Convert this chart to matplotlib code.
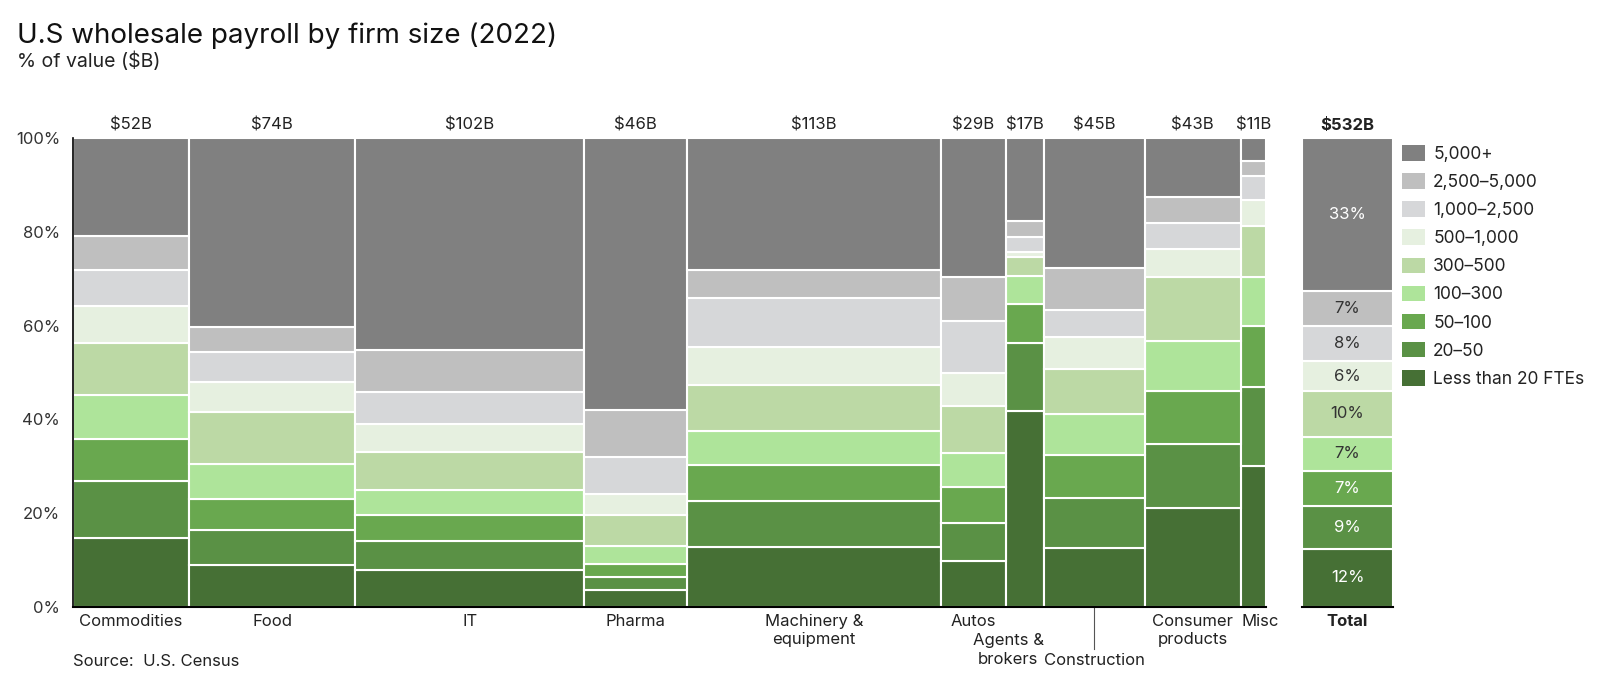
import numpy as np
import matplotlib
matplotlib.use("Agg")
import matplotlib.pyplot as plt
from matplotlib.patches import Patch

plt.rcParams['font.family'] = ['Inter', 'DejaVu Sans']

# categories and their total payroll ($B) -> column widths
categories = ["Commodities", "Food", "IT", "Pharma", "Machinery &\nequipment",
              "Autos", "Agents &\nbrokers", "Construction", "Consumer\nproducts", "Misc"]
payroll = [52, 74, 102, 46, 113, 29, 17, 45, 43, 11]

# firm size bands, bottom to top
bands = ["Less than 20 FTEs", "20-50", "50-100", "100-300", "300-500",
         "500-1,000", "1,000-2,500", "2,500-5,000", "5,000+"]
colors = ["#467035", "#5a9145", "#69a84f", "#aee49a", "#bcd9a5",
          "#e6f0e0", "#d6d7d9", "#bfbfbf", "#808080"]

# share of payroll (%) per band, one value per category
lt20      = [14.7, 8.8, 7.9, 3.6, 12.7, 9.8, 41.7, 12.5, 21.1, 30.1]
s20_50    = [12.2, 7.5, 6.2, 2.8, 9.8, 8.0, 14.5, 10.7, 13.7, 16.9]
s50_100   = [9.0, 6.7, 5.4, 2.7, 7.8, 7.7, 8.4, 9.2, 11.2, 12.9]
s100_300  = [9.2, 7.5, 5.4, 3.8, 7.3, 7.4, 6.0, 8.8, 10.7, 10.5]
s300_500  = [11.2, 11.0, 8.2, 6.6, 9.8, 9.9, 4.1, 9.6, 13.7, 10.9]
s500_1k   = [7.8, 6.5, 5.8, 4.6, 8.1, 7.1, 1.1, 6.8, 6.0, 5.5]
s1k_2500  = [7.7, 6.3, 7.0, 7.8, 10.3, 11.2, 3.2, 5.8, 5.6, 5.2]
s2500_5k  = [7.4, 5.4, 9.0, 10.2, 6.0, 9.3, 3.4, 8.9, 5.4, 3.2]
s5k_plus  = [20.8, 40.3, 45.1, 57.9, 28.2, 29.6, 17.6, 27.7, 12.6, 4.8]
shares = [lt20, s20_50, s50_100, s100_300, s300_500, s500_1k, s1k_2500, s2500_5k, s5k_plus]

total_label = "$532B"
total_shares = [12.4, 9.2, 7.4, 7.3, 9.8, 6.3, 7.6, 7.3, 32.7]
total_text_white = [True, True, True, False, False, False, False, False, True]

W, H = 1600, 686
fig = plt.figure(figsize=(16, 6.86), dpi=100)

x0, x1 = 72.7, 1265.7
y0, y1 = 606.7, 138.3
ax = fig.add_axes([x0 / W, 1 - y0 / H, (x1 - x0) / W, (y0 - y1) / H])

lefts = np.concatenate([[0], np.cumsum(payroll)[:-1]])
bottom = np.zeros(len(payroll))
for band, col, vals in zip(bands, colors, shares):
    ax.bar(lefts, vals, width=payroll, bottom=bottom, align='edge', color=col,
           edgecolor='white', linewidth=1.5)
    bottom += np.array(vals)

ax.set_xlim(0, sum(payroll))
ax.set_ylim(0, 100)
ax.set_yticks(range(0, 101, 20))
ax.set_yticklabels(['%d%%' % v for v in range(0, 101, 20)], fontsize=12, color='#333333')
ax.tick_params(axis='y', length=0, pad=9)
ax.set_xticks([])
for s in ['top', 'right']:
    ax.spines[s].set_visible(False)
ax.spines['left'].set_linewidth(1.2)
ax.spines['bottom'].set_linewidth(1.5)

centers = lefts + np.array(payroll) / 2
for c, v in zip(centers, payroll):
    ax.text(c, 102.8, '$%dB' % v, ha='center', va='center', fontsize=12, color='#222222')

# category names under the columns
top_rows = [-1.5, -5.6, -9.8]
for i, (name, c) in enumerate(zip(categories, centers)):
    kw = dict(va='top', fontsize=12, color='#222222', linespacing=1.3,
              multialignment='center', clip_on=False)
    if name.startswith("Agents"):
        ax.text(lefts[i] + payroll[i], top_rows[1], name, ha='right', **kw)
    elif name == "Construction":
        ax.text(c, top_rows[2], name, ha='center', **kw)
        ax.plot([c, c], [0, -9.0], color='#555555', lw=0.8, clip_on=False)
    elif name == "Misc":
        ax.text(lefts[i], top_rows[0], name, ha='left', **kw)
    else:
        ax.text(c, top_rows[0], name, ha='center', **kw)

# total column
tx0, tx1 = 1302, 1393
tax = fig.add_axes([tx0 / W, 1 - y0 / H, (tx1 - tx0) / W, (y0 - y1) / H])
tb = 0
for col, v, wt in zip(colors, total_shares, total_text_white):
    tax.bar(0, v, width=1, bottom=tb, align='edge', color=col,
            edgecolor='white', linewidth=1.5)
    tax.text(0.5, tb + v / 2, '%d%%' % round(v), ha='center', va='center',
             fontsize=12, color='white' if wt else '#333333')
    tb += v
tax.set_xlim(0, 1)
tax.set_ylim(0, 100)
tax.set_xticks([])
tax.set_yticks([])
for s in ['top', 'right', 'left']:
    tax.spines[s].set_visible(False)
tax.spines['bottom'].set_linewidth(1.5)
tax.text(0.5, 102.8, total_label, ha='center', va='center', fontsize=12,
         fontweight='bold', color='#222222')
tax.text(0.5, -1.5, "Total", ha='center', va='top', fontsize=12,
         fontweight='bold', color='#222222', clip_on=False)

# legend, largest firms on top
handles = [Patch(facecolor=c, edgecolor='none') for c in colors[::-1]]
fig.legend(handles, [b.replace('-', '\u2013') for b in bands[::-1]],
           loc='upper left', bbox_to_anchor=(1402 / W, 1 - 145 / H),
           frameon=False, fontsize=12.5, handlelength=1.35, handleheight=1.0,
           labelspacing=0.6, handletextpad=0.45, borderpad=0, borderaxespad=0,
           labelcolor='#222222')

fig.text(17 / W, 1 - 43 / H, "U.S wholesale payroll by firm size (2022)",
         fontsize=20, color='#111111', va='baseline')
fig.text(17 / W, 1 - 66.5 / H, "% of value ($B)", fontsize=14,
         color='#222222', va='baseline')
fig.text(73 / W, 1 - 662 / H, "Source:  U.S. Census", fontsize=12,
         color='#222222', va='center')

fig.savefig("out.png", dpi=100)
